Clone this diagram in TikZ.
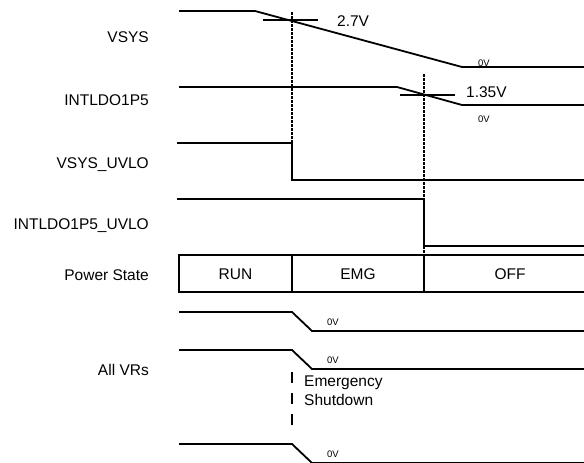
\documentclass[tikz,border=0pt]{standalone}
\usepackage{fontspec}
\setmainfont{Liberation Sans}
\usetikzlibrary{calc,positioning}
\tikzset{sig/.style={line width=1.8pt},
  mark line/.style={line width=1.4pt,dash pattern=on 2.5pt off 1.5pt},
  lbl/.style={anchor=base east,inner sep=0pt},
  zero/.style={anchor=base west,inner sep=0pt,font=\fontsize{9.5}{11}\selectfont}}

\begin{document}
\begin{tikzpicture}[x=1pt,y=-1pt,line join=miter,font=\fontsize{15.5}{18.3}\selectfont]
\useasboundingbox (0,0) rectangle (584,463);
% --- signal names
\node[lbl] (nvsys) at (149,42.5) {VSYS};
\node[lbl] (nldo) at (149,105.5) {INTLDO1P5};
\node[lbl] (nvuv) at (149,168) {VSYS\_UVLO};
\node[lbl] (nlduv) at (149,229.5) {INTLDO1P5\_UVLO};
\node[lbl] (nps) at (149,280.5) {Power State};
\node[lbl] (nvr) at (149,375.5) {All VRs};
% --- VSYS and INTLDO1P5 ramps
\draw[sig] (179,11) -- (255,11) -- (462,67) -- (584,67);
\draw[sig] (263,20) -- (318,20);
\node[anchor=base west,inner sep=0pt] (th1) at (337,26.5) {2.7V};
\node[zero] (z1) at (478,66) {0V};
\draw[sig] (179,87) -- (397,87) -- (462,105) -- (584,105);
\draw[sig] (400,95) -- (455,95);
\node[anchor=base west,inner sep=0pt] (th2) at (466,97.3) {1.35V};
\node[zero] (z2) at (478,122) {0V};
% --- UVLO flags
\draw[sig] (177,143) -- (292,143) -- (292,180) -- (584,180);
\draw[sig] (177,199) -- (424,199) -- (424,246) -- (584,246);
\draw[mark line] (292,12) -- (292,143);
\draw[mark line] (424,74) -- (424,255);
% --- power state bar
\draw[sig] (584,255) -- (179,255) -- (179,292) -- (584,292);
\draw[sig] (292,255) -- (292,292) (424,255) -- (424,292);
\node[anchor=base,inner sep=0pt] (run) at (235.5,279) {RUN};
\node[anchor=base,inner sep=0pt] (emg) at (358,279) {EMG};
\node[anchor=base,inner sep=0pt] (off) at (510,279) {OFF};
% --- regulators
\foreach \y in {312,350,444}{
  \draw[sig] (179,\y) -- (292,\y) -- (312,\y+19) -- (584,\y+19);
  \node[zero] at (327,\y+13) {0V};
}
\draw[line width=1.5pt,dash pattern=on 11pt off 10pt] (292,372) -- (292,432);
\node[anchor=base west,inner sep=0pt,align=left] (shut) at (304,405) {Emergency\\Shutdown};
\end{tikzpicture}
\end{document}
